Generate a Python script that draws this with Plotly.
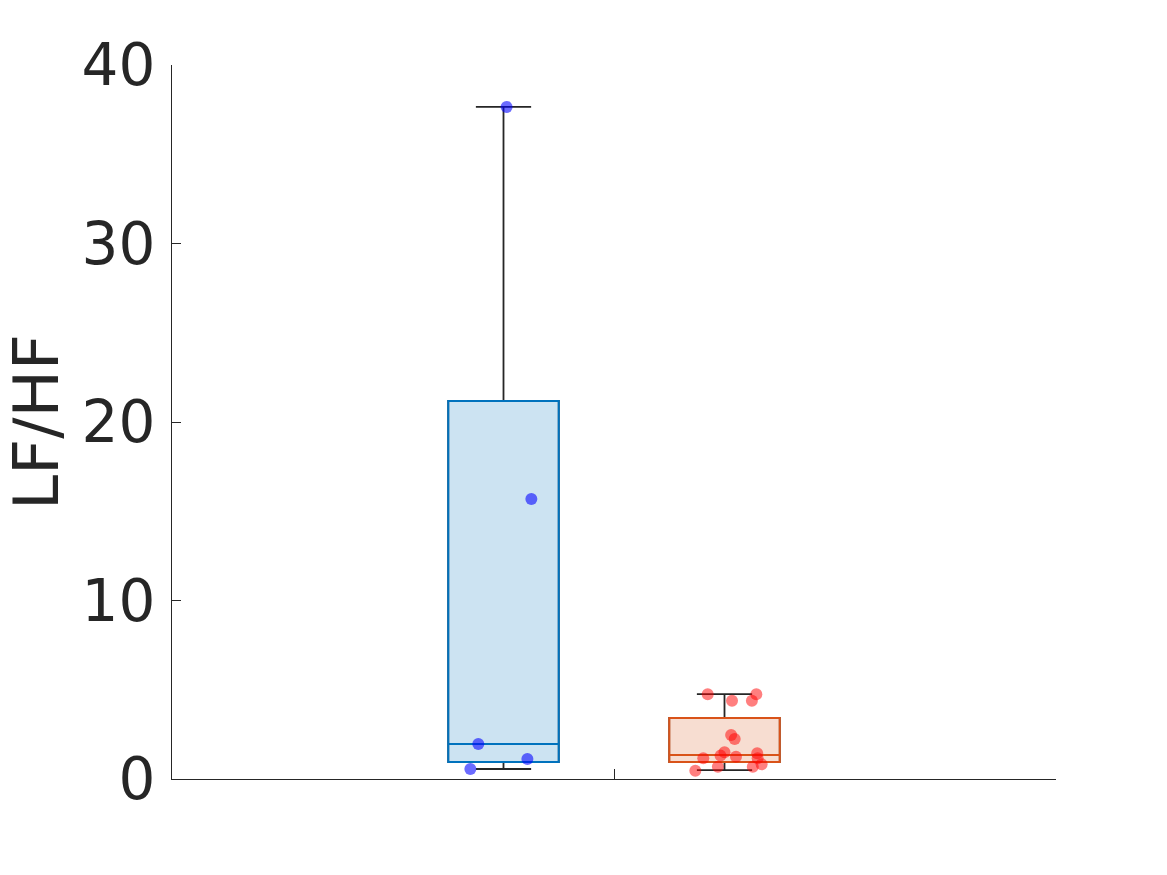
import plotly.graph_objects as go

# ---- data ----
group_pos = [0.75, 1.25]
box_q1 = [0.95, 0.95]
box_median = [1.96, 1.34]
box_q3 = [21.18, 3.42]
box_lower = [0.56, 0.50]
box_upper = [37.65, 4.76]

blue_vals = [37.65, 15.69, 1.96, 1.12, 0.56]
blue_jitter = [0.007, 0.063, -0.057, 0.054, -0.075]

red_vals = [4.745, 4.745, 4.39, 4.39, 2.46, 2.24, 1.50, 1.31, 1.25, 1.44,
            1.16, 1.16, 0.82, 0.69, 0.69, 0.46]
red_jitter = [-0.038, 0.072, 0.017, 0.062, 0.015, 0.023, 0.0, -0.009, 0.026,
              0.074, -0.048, 0.075, 0.084, 0.064, -0.015, -0.066]

y_ticks = [0, 10, 20, 30, 40]

line_colors = ["#0072BD", "#D95319"]
fill_colors = ["rgba(0,114,189,0.2)", "rgba(217,83,25,0.2)"]
dark = "#262626"

fig = go.Figure()
for i in range(2):
    # black layer provides whiskers
    fig.add_trace(go.Box(
        x=[group_pos[i]], q1=[box_q1[i]], median=[box_median[i]], q3=[box_q3[i]],
        lowerfence=[box_lower[i]], upperfence=[box_upper[i]],
        width=0.25, whiskerwidth=0.5, boxpoints=False,
        line=dict(color=dark, width=1.8), fillcolor="rgba(0,0,0,0)",
        showlegend=False, hoverinfo="skip"))
for i in range(2):
    fig.add_trace(go.Box(
        x=[group_pos[i]], q1=[box_q1[i]], median=[box_median[i]], q3=[box_q3[i]],
        lowerfence=[box_q1[i]], upperfence=[box_q3[i]],
        width=0.25, whiskerwidth=0.0, boxpoints=False,
        line=dict(color=line_colors[i], width=2), fillcolor=fill_colors[i],
        showlegend=False))

fig.add_trace(go.Scatter(
    x=[group_pos[0] + j for j in blue_jitter], y=blue_vals, mode="markers",
    marker=dict(color="rgba(0,0,255,0.58)", size=12, line=dict(width=0)),
    showlegend=False))
fig.add_trace(go.Scatter(
    x=[group_pos[1] + j for j in red_jitter], y=red_vals, mode="markers",
    marker=dict(color="rgba(255,0,0,0.5)", size=12, line=dict(width=0)),
    showlegend=False))

fig.update_layout(
    width=1167, height=875,
    margin=dict(l=172, r=111, t=65, b=96),
    paper_bgcolor="white", plot_bgcolor="white",
    boxmode="overlay",
    font=dict(family="DejaVu Sans", color=dark),
    xaxis=dict(range=[0, 2], tickvals=[1], ticktext=[""], ticks="inside",
               ticklen=10, tickcolor=dark, tickwidth=1,
               showline=True, linecolor=dark, linewidth=1,
               showgrid=False, zeroline=False, fixedrange=True),
    yaxis=dict(range=[0, 40], tickvals=y_ticks, ticks="inside", ticklen=9,
               tickcolor=dark, tickwidth=1,
               showline=True, linecolor=dark, linewidth=1,
               showgrid=False, zeroline=False,
               tickfont=dict(size=58, family="DejaVu Sans", color=dark),
               ticklabelstandoff=4,
               title=dict(text="LF/HF", font=dict(size=63, family="DejaVu Sans", color=dark),
                          standoff=22)),
)

fig.write_html("out.html")
